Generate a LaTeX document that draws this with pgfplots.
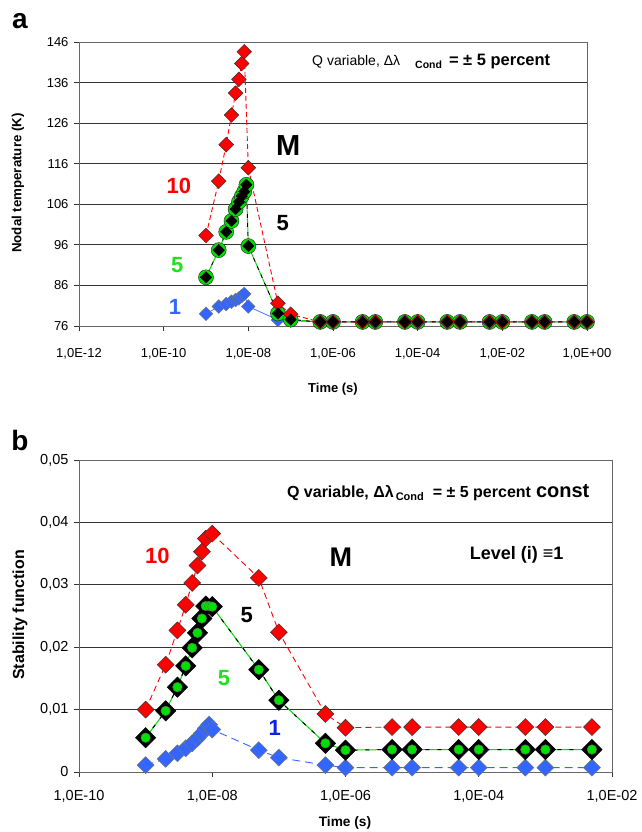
\documentclass[border=0pt]{standalone}
\usepackage{fontspec}
\setmainfont{Liberation Sans}
\usepackage{pgfplots}
\pgfplotsset{compat=1.18}

\definecolor{rd}{HTML}{FF0000}
\definecolor{gr}{HTML}{00E000}
\definecolor{grlab}{HTML}{22E022}
\definecolor{bl}{HTML}{3366FF}
\definecolor{bllab}{HTML}{3366FF}
\definecolor{bldark}{HTML}{0A22E6}

\newcommand{\fs}[1]{\fontsize{#1}{#1}\selectfont}

\begin{document}
\begin{tikzpicture}[x=1pt,y=1pt]
\useasboundingbox (0pt,0pt) rectangle (641pt,832pt);

% ---------------- panel a: nodal temperature ----------------
\begin{axis}[xmode=log, log basis x=10, xminorticks=false,
  scale only axis, at={(79pt,506pt)}, anchor=south west,
  width=508pt, height=284pt,
  tick align=outside, xtick pos=bottom, ytick pos=left,
  major tick length=5pt,
  ymajorgrids, grid style={black!80, line width=0.8pt},
  axis line style={black!60, line width=0.9pt},
  tick style={black!80, line width=0.8pt},
  ticklabel style={font=\fs{13}},
  /pgf/number format/assume math mode=true,
  clip=false,
  xmin=1e-12, xmax=1, ymin=76, ymax=146,
  ytick={76,86,...,146},
  xtick={1e-12,1e-10,1e-8,1e-6,1e-4,1e-2,1},
  xticklabels={{1,0E-12},{1,0E-10},{1,0E-08},{1,0E-06},{1,0E-04},{1,0E-02},{1,0E+00}},
  xticklabel style={yshift=-14pt},
  yticklabel style={xshift=-2pt},
]
% level 1
\addplot[bl, line width=0.7pt, mark=square*, mark size=4.8pt,
  mark options={solid, rotate=45, line width=0.5pt, fill=bl, draw=black!55}] coordinates {
  (1e-9,79.0) (2e-9,80.8) (3e-9,81.4) (4e-9,82.0) (5e-9,82.4) (6e-9,82.8)
  (7e-9,83.4) (8e-9,83.9) (1e-8,80.8) (5e-8,77.5) (1e-7,77.3)
  (5e-7,77.0) (1e-6,77.0) (5e-6,77.0) (1e-5,77.0) (5e-5,77.0) (1e-4,77.0)
  (5e-4,77.0) (1e-3,77.0) (5e-3,77.0) (1e-2,77.0) (5e-2,77.0) (1e-1,77.0)
  (5e-1,77.0) (1,77.0)};
% level 5 (circles)
\addplot[gr, line width=1pt, dash pattern=on 5pt off 4pt, mark=*, mark size=7.5pt,
  mark options={solid, fill=gr, draw=black!80, line width=0.5pt}] coordinates {
  (1e-9,88.0) (2e-9,94.7) (3e-9,99.2) (4e-9,101.9) (5e-9,104.8) (6e-9,106.6)
  (7e-9,108.0) (8e-9,109.1) (9e-9,110.8) (1e-8,95.7) (5e-8,79.1) (1e-7,77.6)
  (5e-7,77.0) (1e-6,77.0) (5e-6,77.0) (1e-5,77.0) (5e-5,77.0) (1e-4,77.0)
  (5e-4,77.0) (1e-3,77.0) (5e-3,77.0) (1e-2,77.0) (5e-2,77.0) (1e-1,77.0)
  (5e-1,77.0) (1,77.0)};
% level 10
\addplot[rd, line width=0.9pt, dash pattern=on 5pt off 3pt, mark=square*, mark size=5.2pt,
  mark options={solid, rotate=45, line width=0.5pt, fill=rd, draw=black!80}] coordinates {
  (1e-9,98.3) (2e-9,111.7) (3e-9,120.7) (4e-9,128.0) (5e-9,133.4) (6e-9,136.8)
  (7e-9,140.7) (8e-9,143.6) (1e-8,115.0) (5e-8,81.6) (1e-7,78.9)
  (5e-7,77.0) (1e-6,77.0) (5e-6,77.0) (1e-5,77.0) (5e-5,77.0) (1e-4,77.0)
  (5e-4,77.0) (1e-3,77.0) (5e-3,77.0) (1e-2,77.0) (5e-2,77.0) (1e-1,77.0)
  (5e-1,77.0) (1,77.0)};
% level 5 (diamonds)
\addplot[black, line width=1pt, dash pattern=on 4pt off 5pt, dash phase=4.5pt,
  mark=square*, mark size=4pt,
  mark options={solid, rotate=45, line width=0.5pt, fill=black, draw=black}] coordinates {
  (1e-9,88.0) (2e-9,94.7) (3e-9,99.2) (4e-9,101.9) (5e-9,104.8) (6e-9,106.6)
  (7e-9,108.0) (8e-9,109.1) (9e-9,110.8) (1e-8,95.7) (5e-8,79.1) (1e-7,77.6)
  (5e-7,77.0) (1e-6,77.0) (5e-6,77.0) (1e-5,77.0) (5e-5,77.0) (1e-4,77.0)
  (5e-4,77.0) (1e-3,77.0) (5e-3,77.0) (1e-2,77.0) (5e-2,77.0) (1e-1,77.0)
  (5e-1,77.0) (1,77.0)};

\node[anchor=west, inner sep=0pt] at (axis cs:3.2e-7,141.1)
  {{\fs{14}Q variable, Δλ}\hspace{15pt}\raisebox{-3pt}{\fs{10.5}\bfseries Cond}\hspace{7pt}{\fs{16.5}\bfseries = ± 5 percent}};
\node[font=\fs{29}\bfseries] at (axis cs:8.7e-8,120.6) {M};
\node[font=\fs{22}\bfseries, text=rd] at (axis cs:2.3e-10,110.6) {10};
\node[font=\fs{22}\bfseries, text=black] at (axis cs:6.5e-8,101.3) {5};
\node[font=\fs{22}\bfseries, text=grlab] at (axis cs:2.1e-10,91.0) {5};
\node[font=\fs{22}\bfseries, text=bllab] at (axis cs:1.85e-10,80.8) {1};
\end{axis}

\node[rotate=90, font=\fs{13.3}\bfseries] at (18pt,649pt) {Nodal temperature (K)};
\node[font=\fs{13}\bfseries] at (333pt,443pt) {Time (s)};
\node[font=\fs{28}\bfseries] at (20pt,811pt) {a};

% ---------------- panel b: stability function ----------------
\begin{axis}[xmode=log, log basis x=10, xminorticks=false,
  scale only axis, at={(79pt,60pt)}, anchor=south west,
  width=533pt, height=312pt,
  tick align=outside, xtick pos=bottom, ytick pos=left,
  major tick length=5pt,
  ymajorgrids, grid style={black!80, line width=0.8pt},
  axis line style={black!60, line width=0.9pt},
  tick style={black!80, line width=0.8pt},
  ticklabel style={font=\fs{14.5}},
  /pgf/number format/assume math mode=true,
  /pgf/number format/fixed,
  /pgf/number format/precision=2,
  /pgf/number format/use comma,
  clip=false,
  xmin=1e-10, xmax=1e-2, ymin=0, ymax=0.05,
  ytick={0,0.01,0.02,0.03,0.04,0.05},
  scaled y ticks=false,
  xtick={1e-10,1e-8,1e-6,1e-4,1e-2},
  xticklabels={{1,0E-10},{1,0E-08},{1,0E-06},{1,0E-04},{1,0E-02}},
  xticklabel style={yshift=-10pt},
  yticklabel style={xshift=-2pt},
]
% level 10
\addplot[rd, line width=0.9pt, dash pattern=on 6pt off 4pt, mark=square*, mark size=6pt,
  mark options={solid, rotate=45, line width=0.5pt, fill=rd, draw=black!80}] coordinates {
  (1e-9,0.0100) (2e-9,0.0172) (3e-9,0.0227) (4e-9,0.0268) (5e-9,0.0303)
  (6e-9,0.0331) (7e-9,0.0353) (8e-9,0.0374) (1e-8,0.0382) (5e-8,0.0311)
  (1e-7,0.0224) (5e-7,0.0093) (1e-6,0.0071) (5e-6,0.0072) (1e-5,0.0072)
  (5e-5,0.0072) (1e-4,0.0072) (5e-4,0.0072) (1e-3,0.0072) (5e-3,0.0072)};
% level 1
\addplot[bl, line width=0.9pt, dash pattern=on 8pt off 5pt, mark=square*, mark size=6pt,
  mark options={solid, rotate=45, line width=0.5pt, fill=bl, draw=black!55}] coordinates {
  (1e-9,0.0011) (2e-9,0.0021) (3e-9,0.0030) (4e-9,0.0038) (5e-9,0.0046)
  (6e-9,0.0054) (7e-9,0.0062) (8e-9,0.0070) (9e-9,0.0076) (1e-8,0.0068)
  (5e-8,0.0035) (1e-7,0.0023) (5e-7,0.0011) (1e-6,0.0007) (5e-6,0.0007)
  (1e-5,0.0007) (5e-5,0.0007) (1e-4,0.0007) (5e-4,0.0007) (1e-3,0.0007)
  (5e-3,0.0007)};
% level 5 (diamonds)
\addplot[gr, line width=1pt, mark=square*, mark size=7.2pt,
  mark options={solid, rotate=45, line width=0.5pt, fill=black, draw=black}] coordinates {
  (1e-9,0.0055) (2e-9,0.0098) (3e-9,0.0136) (4e-9,0.0170) (5e-9,0.0199)
  (6e-9,0.0223) (7e-9,0.0246) (8e-9,0.0266) (1e-8,0.0265) (5e-8,0.0164)
  (1e-7,0.0115) (5e-7,0.0046) (1e-6,0.0035) (5e-6,0.0036) (1e-5,0.0036)
  (5e-5,0.0036) (1e-4,0.0036) (5e-4,0.0036) (1e-3,0.0036) (5e-3,0.0036)};
% level 5 (circles)
\addplot[black, line width=1pt, dash pattern=on 4pt off 8pt, mark=*, mark size=4.8pt,
  mark options={solid, fill=gr, draw=black!60, line width=0.4pt}] coordinates {
  (1e-9,0.0055) (2e-9,0.0098) (3e-9,0.0136) (4e-9,0.0170) (5e-9,0.0199)
  (6e-9,0.0223) (7e-9,0.0246) (8e-9,0.0266) (9e-9,0.0266) (1e-8,0.0265)
  (5e-8,0.0164) (1e-7,0.0115) (5e-7,0.0046) (1e-6,0.0035) (5e-6,0.0036)
  (1e-5,0.0036) (5e-5,0.0036) (1e-4,0.0036) (5e-4,0.0036) (1e-3,0.0036)
  (5e-3,0.0036)};

\node[anchor=west, inner sep=0pt, font=\bfseries] at (axis cs:1.32e-7,0.0447)
  {{\fs{16}Q variable, Δλ}\hspace{2pt}\raisebox{-3pt}{\fs{11}Cond}\hspace{9pt}{\fs{16}= ± 5 percent}\hspace{5pt}{\fs{20}const}};
\node[font=\fs{27}\bfseries] at (axis cs:8.5e-7,0.0345) {M};
\node[font=\fs{18}\bfseries] at (axis cs:3.7e-4,0.0348) {Level (i) ≡1};
\node[font=\fs{22}\bfseries, text=rd] at (axis cs:1.5e-9,0.0347) {10};
\node[font=\fs{22}\bfseries, text=black] at (axis cs:3.3e-8,0.0252) {5};
\node[font=\fs{22}\bfseries, text=grlab] at (axis cs:1.5e-8,0.0150) {5};
\node[font=\fs{22}\bfseries, text=bldark] at (axis cs:8.7e-8,0.0070) {1};
\end{axis}

\node[rotate=90, font=\fs{16}\bfseries] at (20pt,217pt) {Stability function};
\node[font=\fs{13.7}\bfseries] at (345pt,9pt) {Time (s)};
\node[font=\fs{28}\bfseries] at (20pt,392pt) {b};
\end{tikzpicture}
\end{document}
